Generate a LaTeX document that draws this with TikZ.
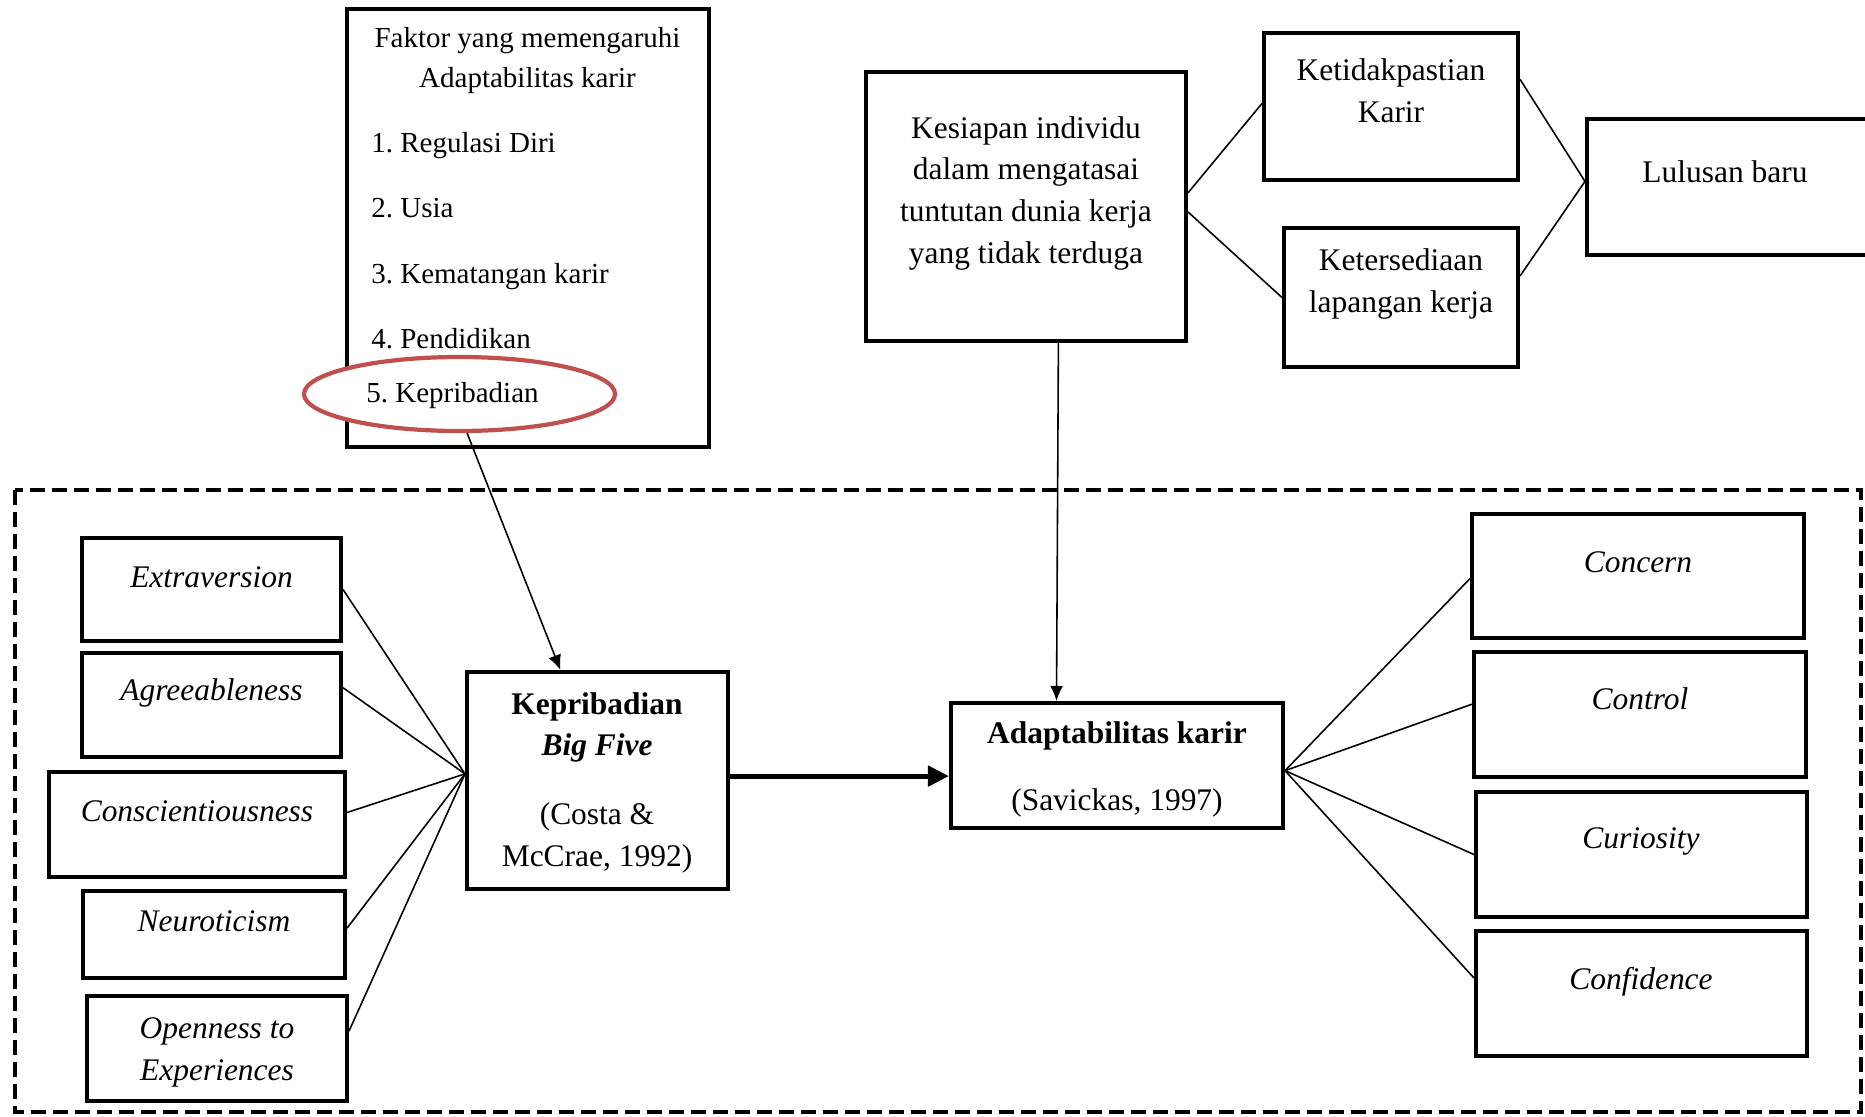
\documentclass[tikz,border=0pt]{standalone}
\usepackage{fontspec}
\setmainfont{Liberation Serif}
\usepackage{xcolor}
\usepackage{tikz}
\usetikzlibrary{calc,fit,shapes.geometric,arrows.meta}
\definecolor{ovalred}{RGB}{192,80,77}
\frenchspacing

\begin{document}
\begin{tikzpicture}[x=0.2mm,y=-0.2mm,
        box/.style={draw,line width=2.3pt,inner sep=0pt},
        txt/.style={anchor=base,inner sep=0pt,align=center,font=\fontsize{17.9}{23.7}\selectfont},
        listitem/.style={anchor=base west,inner sep=0pt,font=\fontsize{16.5}{22.2}\selectfont},
        hilite/.style={ellipse,draw=ovalred,fill=white,line width=2.4pt,minimum width=62.2mm,minimum height=14.8mm,inner sep=0pt},
        link/.style={line width=0.9pt},
        tip/.style={-{Latex[length=3mm,width=2.6mm]}}]
        \useasboundingbox (0,0) rectangle (1865,1117);

        \draw[line width=2.3pt,dash pattern=on 2.9mm off 1.5mm] (15,490) rectangle (1861,1112);

        \node[box,fit={(347,9) (709,447)}] (faktor) {};
        \node[txt,font=\fontsize{16.5}{22.2}\selectfont] (faktor-t) at (527.5,87) {Faktor yang memengaruhi\\Adaptabilitas karir};
        \node[listitem] (f1) at (371,152) {1. Regulasi Diri};
        \node[listitem] (f2) at (371,217) {2. Usia};
        \node[listitem] (f3) at (371,283) {3. Kematangan karir};
        \node[listitem] (f4) at (371,348) {4. Pendidikan};
        \node[hilite] (ell) at (459.5,394) {};
        \node[listitem] (f5) at (366,402) {5. Kepribadian};

        \node[box,fit={(866,72) (1186,341)}] (kesiapan) {};
        \node[txt] (kesiapan-t) at (1026,263) {Kesiapan individu\\dalam mengatasai\\tuntutan dunia kerja\\yang tidak terduga};
        \node[box,fit={(1264,33) (1518,180)}] (ketidak) {};
        \node[txt] (ketidak-t) at (1391,122) {Ketidakpastian\\Karir};
        \node[box,fit={(1284,228) (1518,367)}] (tersedia) {};
        \node[txt] (tersedia-t) at (1401,312) {Ketersediaan\\lapangan kerja};
        \node[box,fit={(1587,119) (1870,255)}] (lulusan) {};
        \node[txt] (lulusan-t) at (1725,182) {Lulusan baru};

        \node[box,fit={(82,538) (341,641)}] (extra) {};
        \node[txt] (extra-t) at (211.5,587) {\textit{Extraversion}};
        \node[box,fit={(82,653) (341,757)}] (agree) {};
        \node[txt] (agree-t) at (211.5,700) {\textit{Agreeableness}};
        \node[box,fit={(49,772) (345,877)}] (consc) {};
        \node[txt] (consc-t) at (197,821) {\textit{Conscientiousness}};
        \node[box,fit={(83,891) (345,978)}] (neuro) {};
        \node[txt] (neuro-t) at (214,931) {\textit{Neuroticism}};
        \node[box,fit={(87,996) (347,1101)}] (open) {};
        \node[txt] (open-t) at (217,1080) {\textit{Openness to}\\\textit{Experiences}};

        \node[box,fit={(467,672) (728,889)}] (kep) {};
        \node[txt] (kep-t) at (597,866) {\textbf{Kepribadian}\\\textbf{\textit{Big Five}}\\[5.4mm](Costa \&\\McCrae, 1992)};
        \node[box,fit={(951,703) (1283,828)}] (adapt) {};
        \node[txt] (adapt-t) at (1117,810) {\textbf{Adaptabilitas karir}\\[5mm](Savickas, 1997)};

        \node[box,fit={(1472,514) (1804,638)}] (concern) {};
        \node[txt] (concern-t) at (1638,572) {\textit{Concern}};
        \node[box,fit={(1474,652) (1806,777)}] (control) {};
        \node[txt] (control-t) at (1640,709) {\textit{Control}};
        \node[box,fit={(1476,792) (1807,917)}] (curio) {};
        \node[txt] (curio-t) at (1641,848) {\textit{Curiosity}};
        \node[box,fit={(1476,931) (1807,1056)}] (confid) {};
        \node[txt] (confid-t) at (1641,989) {\textit{Confidence}};

        \draw[link] ($(kesiapan.north east)!.45!(kesiapan.south east)$)--($(ketidak.north west)!.48!(ketidak.south west)$);
        \draw[link] ($(kesiapan.north east)!.52!(kesiapan.south east)$)--($(tersedia.north west)!.5!(tersedia.south west)$);
        \draw[link] ($(ketidak.north east)!.32!(ketidak.south east)$)--($(lulusan.north west)!.46!(lulusan.south west)$);
        \draw[link] ($(tersedia.north east)!.35!(tersedia.south east)$)--($(lulusan.north west)!.46!(lulusan.south west)$);

        \draw[link,tip] (ell.-79)--($(kep.north west)!.36!(kep.north east)$);
        \draw[link,tip] ($(kesiapan.south west)!.6!(kesiapan.south east)$)--($(adapt.north west)!.32!(adapt.north east)$);

        \coordinate (kepin) at ($(kep.north west)!.47!(kep.south west)$);
        \draw[link] ($(extra.north east)!.5!(extra.south east)$)--(kepin);
        \draw[link] ($(agree.north east)!.34!(agree.south east)$)--(kepin);
        \draw[link] ($(consc.north east)!.39!(consc.south east)$)--(kepin);
        \draw[link] ($(neuro.north east)!.43!(neuro.south east)$)--(kepin);
        \draw[link] ($(open.north east)!.34!(open.south east)$)--(kepin);

        \coordinate (kepout) at ($(kep.north east)!.48!(kep.south east)$);
        \draw[line width=1mm,-{Triangle[length=4.2mm,width=4mm]}] (kepout)--(kepout-|adapt.west);

        \coordinate (adaptout) at ($(adapt.north east)!.54!(adapt.south east)$);
        \draw[link] (adaptout)--($(concern.north west)!.52!(concern.south west)$);
        \draw[link] (adaptout)--($(control.north west)!.42!(control.south west)$);
        \draw[link] (adaptout)--($(curio.north west)!.5!(curio.south west)$);
        \draw[link] (adaptout)--($(confid.north west)!.38!(confid.south west)$);
    \end{tikzpicture}
\end{document}
